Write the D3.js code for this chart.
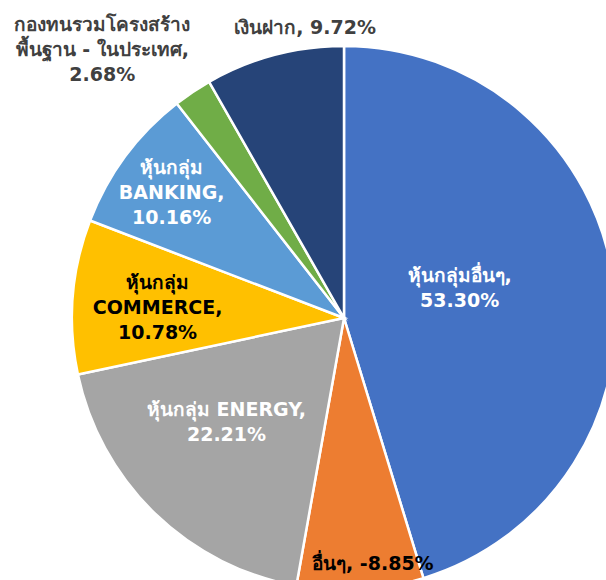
<!DOCTYPE html>
<html>
<head>
	<meta charset="utf-8">
	<script src="https://cdn.jsdelivr.net/npm/d3@7"></script>
	<style>
		body { margin: 0; background: #fff; }
		.lbl { font-family: "DejaVu Sans", Tahoma, "Noto Sans", sans-serif; font-weight: bold; font-size: 19px; }
	</style>
</head>
<body>
	<svg></svg>
	<script>
		var width = 606, height = 580;

		// slice data, clockwise from 12 o'clock
		var names = ["หุ้นกลุ่มอื่นๆ", "อื่นๆ", "หุ้นกลุ่ม ENERGY", "หุ้นกลุ่ม COMMERCE", "หุ้นกลุ่ม BANKING",
			"กองทนรวมโครงสร้างพื้นฐาน - ในประเทศ", "เงินฝาก"];
		var values = [53.30, -8.85, 22.21, 10.78, 10.16, 2.68, 9.72];
		// how each label is broken into lines
		var labelLines = [
			["หุ้นกลุ่มอื่นๆ,", "53.30%"],
			["อื่นๆ, -8.85%"],
			["หุ้นกลุ่ม ENERGY,", "22.21%"],
			["หุ้นกลุ่ม", "COMMERCE,", "10.78%"],
			["หุ้นกลุ่ม", "BANKING,", "10.16%"],
			["กองทนรวมโครงสร้าง", "พื้นฐาน - ในประเทศ,", "2.68%"],
			["เงินฝาก, 9.72%"]
		];

		var colors = ["#4472C4", "#ED7D31", "#A5A5A5", "#FFC000", "#5B9BD5", "#70AD47", "#264478"];
		var textColors = ["#fff", "#000", "#fff", "#000", "#fff", "#404040", "#404040"];
		// label placement: radius from centre and nudge
		var labelR = [120, 247, 156, 187, 212, 330, 292];
		var nudge = [[-3, -12], [14, -1], [-9, -8], [0, 5], [-2, 1], [-58, 6], [36, -8]];

		var cx = 344, cy = 318, R = 272;

		var svg = d3.select("svg").attr("width", width).attr("height", height);
		var g = svg.append("g").attr("transform", "translate(" + cx + "," + cy + ")");

		var pie = d3.pie().sort(null).value(d => Math.abs(d));
		var arcs = pie(values);
		var arc = d3.arc().innerRadius(0).outerRadius(R);

		g.selectAll("path.slice")
			.data(arcs)
			.enter()
			.append("path")
			.attr("class", "slice")
			.attr("d", arc)
			.attr("fill", (d, i) => colors[i])
			.attr("stroke", "#fff")
			.attr("stroke-width", 2.5);

		var lineH = 25;
		arcs.forEach(function (d, i) {
			var a = (d.startAngle + d.endAngle) / 2;
			var x = Math.sin(a) * labelR[i] + nudge[i][0];
			var y = -Math.cos(a) * labelR[i] + nudge[i][1];
			var lines = labelLines[i];
			var t = g.append("text")
				.attr("class", "lbl")
				.attr("text-anchor", "middle")
				.attr("fill", textColors[i]);
			lines.forEach(function (s, j) {
				t.append("tspan")
					.attr("x", x)
					.attr("y", y + (j - (lines.length - 1) / 2) * lineH + 6)
					.text(s);
			});
		});
	</script>
</body>
</html>
